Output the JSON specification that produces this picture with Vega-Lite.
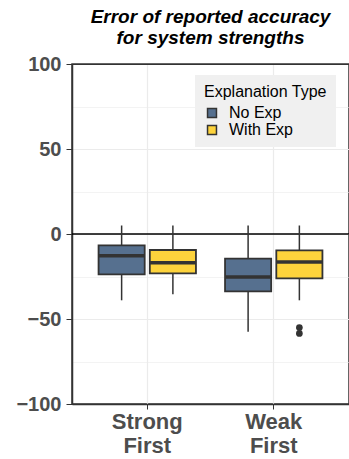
{
  "$schema": "https://vega.github.io/schema/vega-lite/v6.json",
  "autosize": "none",
  "padding": {"left": 72, "top": 64, "right": 0, "bottom": 55},
  "width": 277,
  "height": 340,
  "background": "white",
  "config": {
    "font": "Liberation Sans",
    "view": {"stroke": "#333333", "strokeWidth": 1.5}
  },
  "title": {
    "text": ["Error of reported accuracy", "for system strengths"],
    "fontSize": 19,
    "fontStyle": "italic",
    "fontWeight": "bold",
    "font": "Liberation Sans",
    "color": "#000000",
    "anchor": "middle",
    "frame": "group",
    "lineHeight": 21,
    "offset": 6
  },
  "datasets": {
    "stats": [
      {"Order": "Strong First", "Type": "No Exp", "lower": -39, "q1": -23.7, "median": -12.8, "q3": -6.7, "upper": 5},
      {"Order": "Strong First", "Type": "With Exp", "lower": -35.5, "q1": -23.2, "median": -16.9, "q3": -9.4, "upper": 5},
      {"Order": "Weak First", "Type": "No Exp", "lower": -57.5, "q1": -33.7, "median": -25.3, "q3": -14.5, "upper": 5},
      {"Order": "Weak First", "Type": "With Exp", "lower": -39, "q1": -26.1, "median": -16.5, "q3": -9.6, "upper": 5}
    ],
    "outliers": [
      {"Order": "Weak First", "Type": "With Exp", "value": -55},
      {"Order": "Weak First", "Type": "With Exp", "value": -58.5}
    ]
  },
  "encoding": {
    "x": {
      "field": "Order", "type": "nominal",
      "scale": {"domain": ["Strong First", "Weak First"], "paddingInner": 0.23, "paddingOuter": 0.21},
      "axis": {
        "title": null,
        "labelAngle": 0,
        "labelExpr": "split(datum.value, ' ')",
        "labelFontSize": 22,
        "labelFontWeight": "bold",
        "labelColor": "#4d4d4d",
        "labelLineHeight": 24,
        "labelPadding": 2,
        "tickSize": 5,
        "tickColor": "#333333",
        "domainColor": "#333333",
        "domainWidth": 1.5,
        "grid": true,
        "gridColor": "#ebebeb",
        "gridWidth": 1.2
      }
    },
    "xOffset": {
      "field": "Type", "type": "nominal",
      "scale": {"domain": ["No Exp", "With Exp"], "paddingInner": 0.1, "paddingOuter": 0}
    }
  },
  "layer": [
    {
      "data": {"values": [{"v": 0}]},
      "mark": {"type": "rule", "color": "black", "strokeWidth": 1.6},
      "encoding": {
        "x": null,
        "xOffset": null,
        "y": {
          "field": "v", "type": "quantitative",
          "scale": {"domain": [-100, 100], "nice": false},
          "axis": {
            "title": null,
            "values": [-100, -75, -50, -25, 0, 25, 50, 75, 100],
            "labelExpr": "datum.value % 50 == 0 ? replace(format(datum.value, 'd'), '-', '\u2013') : ''",
            "labelFontSize": 20,
            "labelFontWeight": "bold",
            "labelColor": "#4d4d4d",
            "labelPadding": 5,
            "tickSize": 6,
            "tickColor": "#333333",
            "tickOpacity": {"condition": {"test": "datum.value % 50 != 0", "value": 0}, "value": 1},
            "domainColor": "#333333",
            "domainWidth": 1.5,
            "grid": true,
            "gridColor": {"condition": {"test": "abs(datum.value) == 100", "value": "#333333"}, "value": "#ebebeb"},
            "gridWidth": {"condition": {"test": "datum.value % 50 != 0", "value": 0.6}, "value": 1.2}
          }
        }
      }
    },
    {
      "data": {"name": "stats"},
      "mark": {"type": "rule", "color": "#333333", "strokeWidth": 1.5},
      "encoding": {
        "y": {"field": "lower", "type": "quantitative"},
        "y2": {"field": "upper"}
      }
    },
    {
      "data": {"name": "stats"},
      "mark": {"type": "bar", "stroke": "#333333", "strokeWidth": 1.8, "width": {"band": 1}},
      "encoding": {
        "y": {"field": "q1", "type": "quantitative"},
        "y2": {"field": "q3"},
        "fill": {
          "field": "Type", "type": "nominal",
          "scale": {"domain": ["No Exp", "With Exp"], "range": ["#56708f", "#fdd33c"]},
          "legend": {
            "title": "Explanation Type",
            "orient": "none",
            "legendX": 123,
            "legendY": 11,
            "fillColor": "#f0f0f0",
            "padding": 9,
            "titleFontSize": 16,
            "titleFontWeight": "normal",
            "titleColor": "#000000",
            "titlePadding": 5,
            "labelFontSize": 16,
            "labelColor": "#000000",
            "labelOffset": 9,
            "symbolType": "square",
            "symbolSize": 80,
            "symbolStrokeColor": "#333333",
            "symbolStrokeWidth": 1.5,
            "rowPadding": 1
          }
        }
      }
    },
    {
      "data": {"name": "stats"},
      "mark": {"type": "tick", "color": "#333333", "thickness": 3.5, "size": 46, "opacity": 1},
      "encoding": {
        "y": {"field": "median", "type": "quantitative"}
      }
    },
    {
      "data": {"name": "outliers"},
      "mark": {"type": "circle", "color": "#333333", "size": 45, "opacity": 1},
      "encoding": {
        "y": {"field": "value", "type": "quantitative"}
      }
    }
  ]
}
